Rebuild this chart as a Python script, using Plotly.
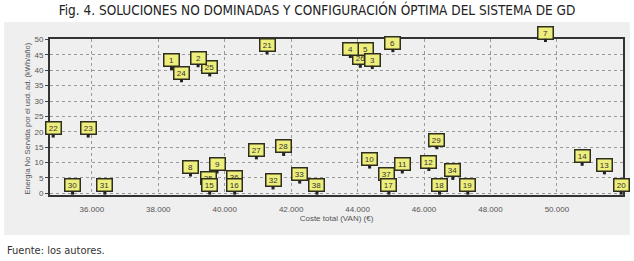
import plotly.graph_objects as go

labels = [str(i) for i in range(1, 39)]
coste = [38397, 39198, 44443, 43781, 44242, 45063, 49656, 38969, 39769, 44362,
         45346, 46146, 51431, 50760, 39549, 40301, 44943, 46468, 47319, 51933,
         41273, 34836, 35889, 38698, 39549, 44082, 40954, 41775, 46387, 35420,
         36391, 41454, 42257, 46868, 39498, 40301, 44883, 42777]
ens = [40.6, 41.5, 40.9, 44.5, 44.5, 46.4, 49.7, 5.9, 6.9, 8.5,
       6.9, 7.7, 6.6, 9.4, 0.0, 0.0, 0.0, 0.0, 0.0, 0.0,
       45.7, 18.6, 18.6, 36.6, 38.5, 41.3, 11.5, 12.6, 14.8, 0.0,
       0.0, 1.7, 3.6, 4.8, 2.2, 2.5, 3.6, 0.0]
x_ticks = [36000, 38000, 40000, 42000, 44000, 46000, 48000, 50000]
y_ticks = list(range(0, 51, 5))

title_text = "Fig. 4. SOLUCIONES NO DOMINADAS Y CONFIGURACIÓN ÓPTIMA DEL SISTEMA DE GD"
source_text = "Fuente: los autores."
x_title = "Coste total (VAN) (€)"
y_title = "Energía No Servida por el usd. ad. (kWh/año)"

NARROW = "Liberation Sans Narrow, Arial Narrow, DejaVu Sans Condensed, sans-serif"
SMALL = "Liberation Sans, Arial, sans-serif"

fig = go.Figure()
fig.add_trace(go.Scatter(
    x=coste, y=ens, mode="markers",
    marker=dict(size=3, color="#222", symbol="square"),
    text=labels, hoverinfo="text+x+y", showlegend=False, cliponaxis=False,
))

# higher numbers first so that lower numbers are drawn on top (as in the reference)
for i in reversed(range(len(labels))):
    fig.add_annotation(
        x=coste[i], y=ens[i], xref="x", yref="y",
        text=labels[i], showarrow=True, arrowhead=0, arrowwidth=2,
        arrowcolor="#222", ax=0, ay=-8,
        bgcolor="#eeee7c", bordercolor="#2e2e1e", borderwidth=1.5, borderpad=1,
        width=12, font=dict(family=SMALL, size=8, color="#333"),
    )

fig.add_shape(type="rect", xref="paper", yref="paper",
              x0=-0.08, x1=1.012, y0=-0.256, y1=1.109,
              fillcolor="#efefef", line=dict(width=0), layer="below")

fig.update_layout(
    width=634, height=261,
    margin=dict(l=50, r=11, t=39, b=66),
    paper_bgcolor="white", plot_bgcolor="#f3f3f3",
    separators=",.",
    title=dict(text=title_text, x=0.5, xanchor="center", y=0.96, yanchor="middle",
               xref="container", yref="container",
               font=dict(family=NARROW, size=13.5, color="#222")),
    xaxis=dict(range=[34740, 51990], tickvals=x_ticks, tickformat=",.0f",
               automargin=False, ticklabelstandoff=5,
               showgrid=True, gridcolor="#9a9a9a", griddash="dot", gridwidth=1,
               zeroline=False, showline=True, linecolor="#333", linewidth=2, mirror=True,
               ticks="", tickfont=dict(family=SMALL, size=8, color="#555"),
               title=dict(text=x_title, font=dict(family=SMALL, size=8, color="#555"), standoff=1)),
    yaxis=dict(range=[-0.6, 50.2], tickvals=y_ticks, automargin=False,
               showgrid=True, gridcolor="#9a9a9a", griddash="dot", gridwidth=1,
               zeroline=False, showline=True, linecolor="#333", linewidth=2, mirror=True,
               ticks="outside", ticklen=3, tickcolor="#444",
               tickfont=dict(family=SMALL, size=8, color="#555")),
)
fig.add_annotation(text=y_title, xref="paper", yref="paper", x=-0.0384, y=0.49,
                   xanchor="center", yanchor="middle", textangle=-90, showarrow=False,
                   font=dict(family=SMALL, size=7.5, color="#555"))
fig.add_annotation(text=source_text, xref="paper", yref="paper",
                   x=-0.079, y=-0.353, xanchor="left", yanchor="middle", showarrow=False,
                   font=dict(family=NARROW, size=11, color="#333"))

fig.write_html("out.html", config={"displayModeBar": False},
               post_script="document.body.style.margin='0px';document.body.style.overflow='hidden';")
